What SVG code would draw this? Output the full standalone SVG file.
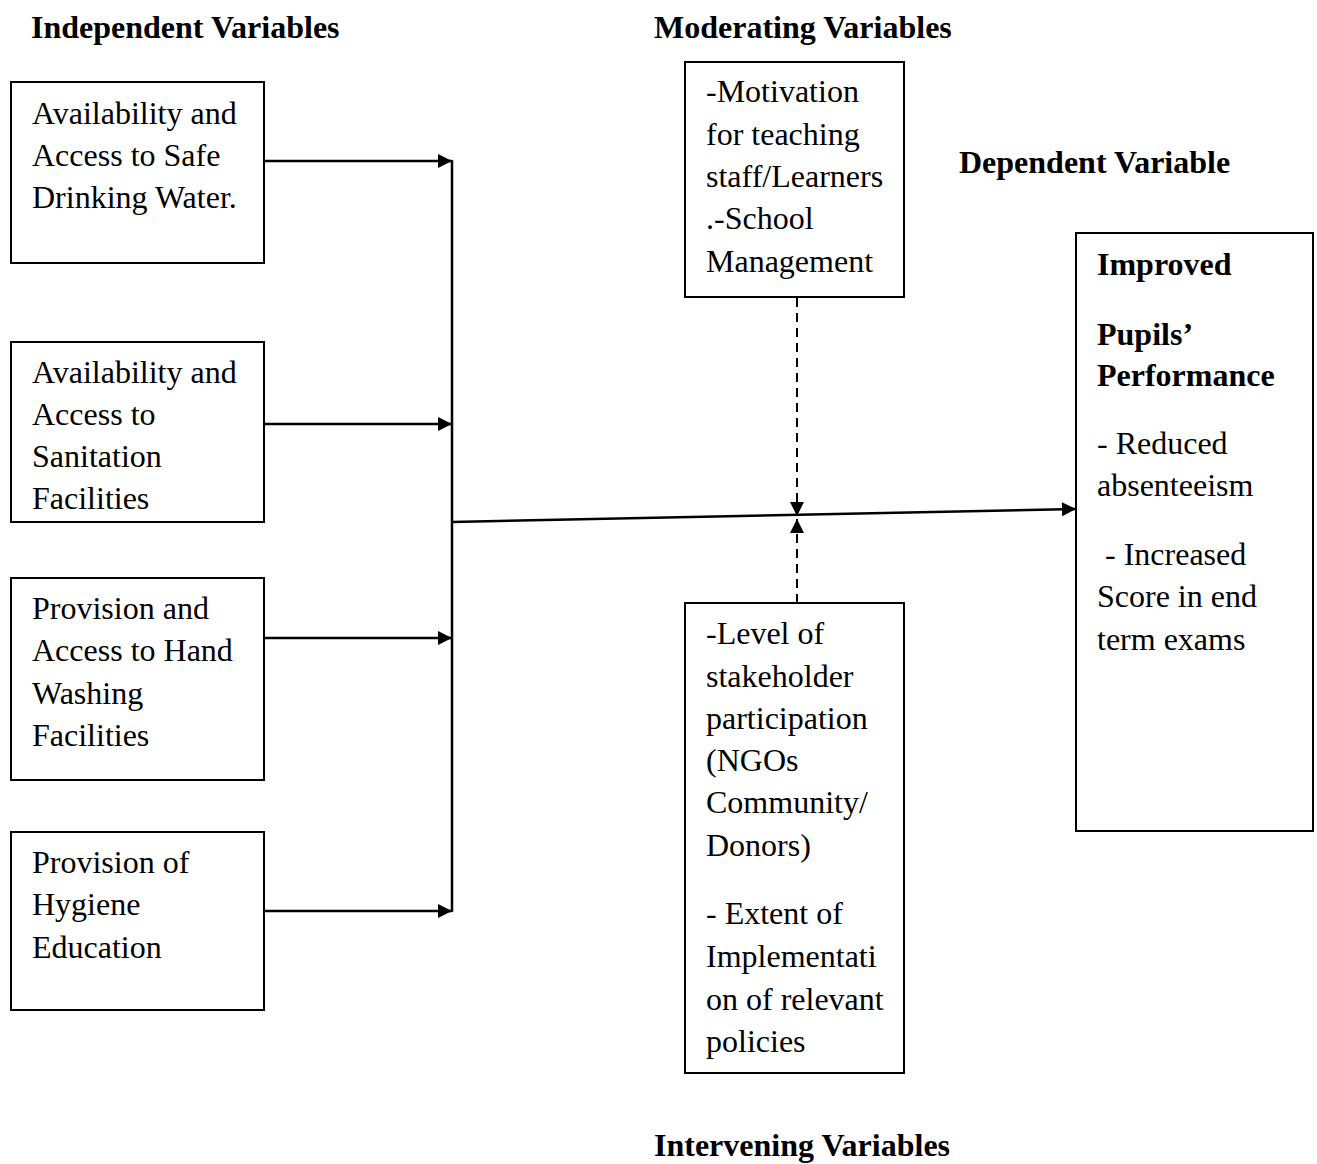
<svg xmlns="http://www.w3.org/2000/svg" width="1317" height="1164" viewBox="0 0 1317 1164">
<defs>
<style>
.t{font-family:"Liberation Serif","Times New Roman",serif;font-size:32px;fill:#000}
.h{font-family:"Liberation Serif","Times New Roman",serif;font-size:32px;font-weight:bold;fill:#000}
.b{font-weight:bold}
.box{fill:#fff;stroke:#000;stroke-width:2}
.ln{stroke:#000;stroke-width:2.5;fill:none}
.dash{stroke:#000;stroke-width:2;fill:none;stroke-dasharray:9,6}
</style>
<marker id="ah2" viewBox="0 0 10 10" refX="10" refY="5" markerWidth="16" markerHeight="14" markerUnits="userSpaceOnUse" orient="auto">
<path d="M0,0 L10,5 L0,10 z" fill="#000"/>
</marker>
</defs>
<rect width="1317" height="1164" fill="#fff"/>

<g id="titles">
<text class="h" x="31" y="38">Independent Variables</text>
<text class="h" x="654" y="38">Moderating Variables</text>
<text class="h" x="959" y="173">Dependent Variable</text>
<text class="h" x="654" y="1156">Intervening Variables</text>
</g>

<g id="connectors">
<line class="ln" x1="264" y1="161" x2="452" y2="161" marker-end="url(#ah2)"/>
<line class="ln" x1="264" y1="424" x2="452" y2="424" marker-end="url(#ah2)"/>
<line class="ln" x1="264" y1="638" x2="452" y2="638" marker-end="url(#ah2)"/>
<line class="ln" x1="264" y1="911" x2="452" y2="911" marker-end="url(#ah2)"/>
<line class="ln" x1="452" y1="160" x2="452" y2="912"/>
<line class="ln" x1="452" y1="522" x2="1076" y2="509" marker-end="url(#ah2)"/>
<line class="dash" x1="797" y1="298" x2="797" y2="516" marker-end="url(#ah2)"/>
<line class="dash" x1="797" y1="603" x2="797" y2="519" marker-end="url(#ah2)"/>
</g>

<g id="iv1">
<rect class="box" x="11" y="82" width="253" height="181"/>
<text class="t" x="32" y="124">Availability and</text>
<text class="t" x="32" y="166">Access to Safe</text>
<text class="t" x="32" y="208">Drinking Water.</text>
</g>

<g id="iv2">
<rect class="box" x="11" y="342" width="253" height="180"/>
<text class="t" x="32" y="383">Availability and</text>
<text class="t" x="32" y="425">Access to</text>
<text class="t" x="32" y="467">Sanitation</text>
<text class="t" x="32" y="509">Facilities</text>
</g>

<g id="iv3">
<rect class="box" x="11" y="578" width="253" height="202"/>
<text class="t" x="32" y="619">Provision and</text>
<text class="t" x="32" y="661">Access to Hand</text>
<text class="t" x="32" y="704">Washing</text>
<text class="t" x="32" y="746">Facilities</text>
</g>

<g id="iv4">
<rect class="box" x="11" y="832" width="253" height="178"/>
<text class="t" x="32" y="873">Provision of</text>
<text class="t" x="32" y="915">Hygiene</text>
<text class="t" x="32" y="958">Education</text>
</g>

<g id="moderating">
<rect class="box" x="685" y="62" width="219" height="235"/>
<text class="t" x="706" y="102">-Motivation</text>
<text class="t" x="706" y="145">for teaching</text>
<text class="t" x="706" y="187">staff/Learners</text>
<text class="t" x="706" y="229">.-School</text>
<text class="t" x="706" y="272">Management</text>
</g>

<g id="intervening">
<rect class="box" x="685" y="603" width="219" height="470"/>
<text class="t" x="706" y="644">-Level of</text>
<text class="t" x="706" y="687">stakeholder</text>
<text class="t" x="706" y="729">participation</text>
<text class="t" x="706" y="771">(NGOs</text>
<text class="t" x="706" y="813">Community/</text>
<text class="t" x="706" y="856">Donors)</text>
<text class="t" x="706" y="924">- Extent of</text>
<text class="t" x="706" y="967">Implementati</text>
<text class="t" x="706" y="1010">on of relevant</text>
<text class="t" x="706" y="1052">policies</text>
</g>

<g id="dependent">
<rect class="box" x="1076" y="233" width="237" height="598"/>
<text class="t b" x="1097" y="275">Improved</text>
<text class="t b" x="1097" y="345">Pupils’</text>
<text class="t b" x="1097" y="386">Performance</text>
<text class="t" x="1097" y="454">- Reduced</text>
<text class="t" x="1097" y="496">absenteeism</text>
<text class="t" x="1097" y="565" xml:space="preserve"> - Increased</text>
<text class="t" x="1097" y="607">Score in end</text>
<text class="t" x="1097" y="650">term exams</text>
</g>
</svg>
